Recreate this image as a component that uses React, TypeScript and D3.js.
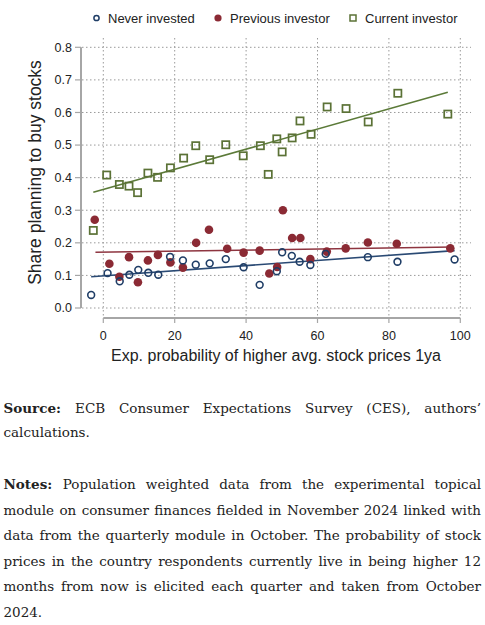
import { useLayoutEffect, useRef, useState } from 'react'
import * as d3 from 'd3'

// points: [expected probability, share planning to buy]
const neverInvested: [number, number][] = [
  [-3.4, 0.04], [1.2, 0.107], [4.6, 0.082], [7.3, 0.102], [9.8, 0.117], [12.6, 0.108],
  [15.4, 0.102], [18.7, 0.157], [22.3, 0.146], [25.9, 0.133], [29.8, 0.137], [34.3, 0.15],
  [39.3, 0.125], [43.8, 0.071], [48.6, 0.113], [50.1, 0.171], [52.8, 0.16], [55.0, 0.142],
  [58.0, 0.132], [62.3, 0.166], [74.1, 0.156], [82.4, 0.142], [98.4, 0.149],
]

const previousInvestor: [number, number][] = [
  [-2.4, 0.271], [1.7, 0.136], [4.5, 0.096], [7.2, 0.156], [9.7, 0.079], [12.5, 0.146],
  [15.3, 0.163], [18.8, 0.14], [22.3, 0.124], [26.0, 0.2], [29.6, 0.24], [34.7, 0.182],
  [39.3, 0.17], [43.8, 0.176], [46.5, 0.106], [48.7, 0.126], [50.3, 0.3], [52.9, 0.215],
  [55.2, 0.215], [58.0, 0.15], [62.6, 0.173], [67.9, 0.183], [74.1, 0.201], [82.2, 0.197],
  [97.2, 0.183],
]

const currentInvestor: [number, number][] = [
  [-2.8, 0.238], [0.95, 0.408], [4.5, 0.379], [7.2, 0.374], [9.6, 0.354], [12.5, 0.414],
  [15.2, 0.401], [18.8, 0.43], [22.5, 0.46], [25.9, 0.498], [29.8, 0.455], [34.3, 0.501],
  [39.2, 0.467], [44.0, 0.498], [46.2, 0.41], [48.6, 0.519], [50.1, 0.479], [52.9, 0.522],
  [55.1, 0.574], [58.2, 0.533], [62.7, 0.617], [68.0, 0.612], [74.2, 0.571], [82.5, 0.659],
  [96.5, 0.595],
]

// fitted lines, end points
const neverFit: [number, number][] = [[-3.4, 0.096], [98.4, 0.176]]
const previousFit: [number, number][] = [[-2.2, 0.171], [97.8, 0.187]]
const currentFit: [number, number][] = [[-2.8, 0.355], [96.5, 0.662]]

const xTicks = [0, 20, 40, 60, 80, 100]
const yTicks = [0, 0.1, 0.2, 0.3, 0.4, 0.5, 0.6, 0.7, 0.8]

const legendLabels = ['Never invested', 'Previous investor', 'Current investor']

const sourceLines = [
  'ECB Consumer Expectations Survey (CES), authors’',
  'calculations.',
]
const notesLines = [
  'Population weighted data from the experimental topical',
  'module on consumer finances fielded in November 2024 linked with',
  'data from the quarterly module in October. The probability of stock',
  'prices in the country respondents currently live in being higher 12',
  'months from now is elicited each quarter and taken from October',
  '2024.',
]

const NAVY = '#1f3d66'
const RED = '#8b2a34'
const GREEN = '#5b7236'
const SANS = 'Liberation Sans, Arial, sans-serif'
const SERIF = 'DejaVu Serif, serif'

type LineProps = { x: number; y: number; width: number; justify: boolean; label?: string; text: string }

// one line of the note, stretched to the column width through word-spacing
function NoteLine({ x, y, width, justify, label, text }: LineProps) {
  const ref = useRef<SVGTextElement>(null)
  const [ws, setWs] = useState(0)
  useLayoutEffect(() => {
    if (!justify || !ref.current) return
    const len = ref.current.getComputedTextLength()
    const full = (label ? label + ' ' : '') + text
    const gaps = full.split(' ').length - 1
    if (gaps > 0) setWs((width - len) / gaps)
  }, [])
  return (
    <text ref={ref} x={x} y={y} fontFamily={SERIF} fontSize={13.5} fill="#222" style={{ wordSpacing: ws }}>
      {label && <tspan fontWeight="bold">{label} </tspan>}
      {text}
    </text>
  )
}

export default function App() {
  const x = d3.scaleLinear().domain([0, 100]).range([103.3, 460.3])
  const y = d3.scaleLinear().domain([0, 0.8]).range([308, 47.3])
  const line = d3.line<[number, number]>().x(d => x(d[0])).y(d => y(d[1]))

  const plotLeft = 82
  const plotRight = 471
  const plotTop = 38
  const plotBottom = 316
  const axisY = 318

  const textLeft = 3.5
  const textWidth = 477.5
  const lineGap = 25.5

  return (
    <svg width={485} height={625} style={{ position: 'absolute', left: 0, top: 0, background: '#fff' }}>
      {/* grid */}
      <g stroke="#9a9a9a" strokeWidth={1} strokeDasharray="1.5,2.5">
        {yTicks.map(t => (
          <line key={'h' + t} x1={plotLeft} x2={plotRight} y1={y(t)} y2={y(t)} />
        ))}
        {xTicks.map(t => (
          <line key={'v' + t} x1={x(t)} x2={x(t)} y1={plotTop} y2={plotBottom} />
        ))}
      </g>

      {/* y axis */}
      <g fontFamily={SANS} fontSize={12.5} fill="#222">
        <line x1={81} x2={81} y1={y(0.8)} y2={y(0)} stroke="#a6a6a6" strokeWidth={2} />
        {yTicks.map(t => (
          <g key={'yt' + t}>
            <line x1={75} x2={81} y1={y(t)} y2={y(t)} stroke="#a6a6a6" strokeWidth={1.2} />
            <text x={72} y={y(t)} dy="0.35em" textAnchor="end">{d3.format('.1f')(t)}</text>
          </g>
        ))}
        <text transform={`translate(40.5,172.5) rotate(-90)`} textAnchor="middle" fontSize={17.5}>
          Share planning to buy stocks
        </text>
      </g>

      {/* x axis */}
      <g fontFamily={SANS} fontSize={12.5} fill="#222">
        <line x1={x(0)} x2={x(100)} y1={axisY} y2={axisY} stroke="#a6a6a6" strokeWidth={2} />
        {xTicks.map(t => (
          <g key={'xt' + t}>
            <line x1={x(t)} x2={x(t)} y1={axisY} y2={axisY + 5} stroke="#a6a6a6" strokeWidth={1.2} />
            <text x={x(t)} y={339.5} textAnchor="middle">{t}</text>
          </g>
        ))}
        <text x={276} y={360.5} textAnchor="middle" fontSize={16}>
          Exp. probability of higher avg. stock prices 1ya
        </text>
      </g>

      {/* fitted lines */}
      <path d={line(neverFit) ?? ''} fill="none" stroke="#2a4a74" strokeWidth={1.6} />
      <path d={line(previousFit) ?? ''} fill="none" stroke="#8e3540" strokeWidth={1.6} />
      <path d={line(currentFit) ?? ''} fill="none" stroke="#5b7a38" strokeWidth={1.6} />

      {/* markers */}
      {currentInvestor.map((d, i) => (
        <rect key={'c' + i} x={x(d[0]) - 3.6} y={y(d[1]) - 3.6} width={7.2} height={7.2}
          fill="none" stroke={GREEN} strokeWidth={1.7} />
      ))}
      {previousInvestor.map((d, i) => (
        <circle key={'p' + i} cx={x(d[0])} cy={y(d[1])} r={4.3} fill={RED} />
      ))}
      {neverInvested.map((d, i) => (
        <circle key={'n' + i} cx={x(d[0])} cy={y(d[1])} r={3.4} fill="none" stroke={NAVY} strokeWidth={1.6} />
      ))}

      {/* legend */}
      <g fontFamily={SANS} fontSize={13} fill="#222">
        <circle cx={96.5} cy={18} r={2.6} fill="none" stroke={NAVY} strokeWidth={1.5} />
        <text x={108} y={18} dy="0.35em">{legendLabels[0]}</text>
        <circle cx={218} cy={18} r={3.6} fill={RED} />
        <text x={230} y={18} dy="0.35em">{legendLabels[1]}</text>
        <rect x={350} y={15} width={6} height={6} fill="none" stroke={GREEN} strokeWidth={1.5} />
        <text x={365} y={18} dy="0.35em">{legendLabels[2]}</text>
      </g>

      {/* source and notes */}
      {sourceLines.map((t, i) => (
        <NoteLine key={'s' + i} x={textLeft} y={412.5 + i * 24.5} width={textWidth}
          justify={i < sourceLines.length - 1} label={i === 0 ? 'Source:' : undefined} text={t} />
      ))}
      {notesLines.map((t, i) => (
        <NoteLine key={'n' + i} x={textLeft} y={489 + i * lineGap} width={textWidth}
          justify={i < notesLines.length - 1} label={i === 0 ? 'Notes:' : undefined} text={t} />
      ))}
    </svg>
  )
}
